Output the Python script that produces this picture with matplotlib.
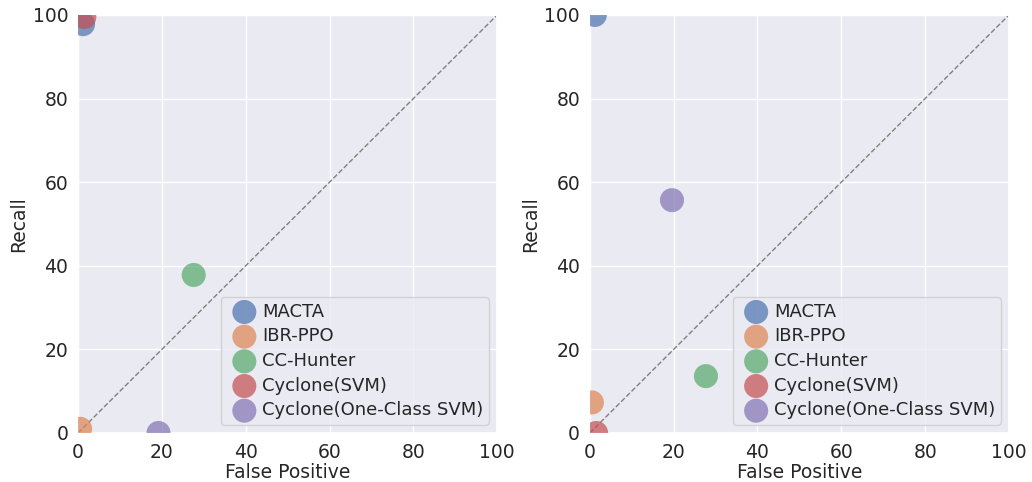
import matplotlib
matplotlib.use("Agg")
import matplotlib.pyplot as plt
import seaborn as sns

sns.set_theme(style="darkgrid")
plt.rcParams['font.family'] = ['DejaVu Sans']

methods = ["MACTA", "IBR-PPO", "CC-Hunter", "Cyclone(SVM)", "Cyclone(One-Class SVM)"]
colors = sns.color_palette("deep")[:5]

left_fp = [1.2, 0.5, 27.6, 1.5, 19.2]
left_recall = [97.8, 1.0, 37.8, 99.5, 0.0]

right_fp = [1.2, 0.5, 27.7, 1.5, 19.6]
right_recall = [100.0, 7.3, 13.6, 0.0, 55.7]

fig, axes = plt.subplots(1, 2, figsize=(10.32, 4.82), dpi=100)
fig.subplots_adjust(left=0.0756, right=0.9777, top=0.969, bottom=0.1017, wspace=0.221)

for ax, fps, recs in zip(axes, [left_fp, right_fp], [left_recall, right_recall]):
    for m, c, x, y in zip(methods, colors, fps, recs):
        ax.scatter([x], [y], s=300, color=c, alpha=0.7, edgecolors='none', label=m, zorder=3)
    ax.plot([0, 100], [0, 100], linestyle='--', color='gray', linewidth=1, zorder=2)
    ax.set_xlim(0, 100)
    ax.set_ylim(0, 100)
    ax.set_xticks([0, 20, 40, 60, 80, 100])
    ax.set_yticks([0, 20, 40, 60, 80, 100])
    ax.tick_params(labelsize=13.5, length=0, pad=7)
    ax.set_xlabel("False Positive", fontsize=13.5, labelpad=1)
    ax.set_ylabel("Recall", fontsize=13.5, labelpad=3)
    ax.legend(loc='lower right', fontsize=13, markerscale=1.0, borderpad=0.3,
              handlelength=2.0, handletextpad=0.0, labelspacing=0.37, borderaxespad=0.45)

fig.savefig("out.png", dpi=100)
